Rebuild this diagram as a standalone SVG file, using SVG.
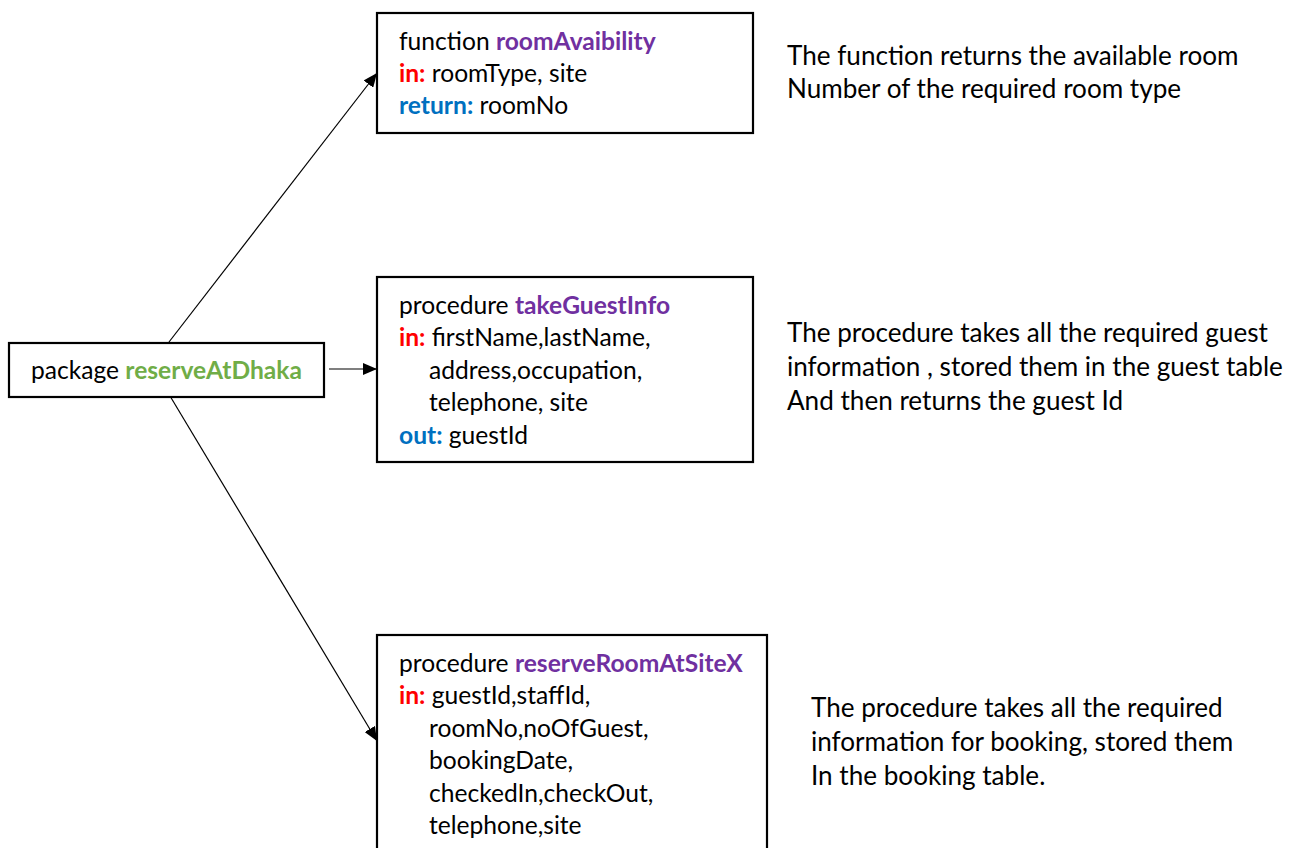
<svg xmlns="http://www.w3.org/2000/svg" width="1297" height="848" viewBox="0 0 1297 848">
<defs>
<marker id="arrow" markerUnits="userSpaceOnUse" markerWidth="14" markerHeight="12" refX="14" refY="6" orient="auto">
<path d="M0,0 L14,6 L0,12 z" fill="#000"/>
</marker>
<style>
.box{fill:#fff;stroke:#000;stroke-width:2.2}
.t{font-family:Lato,"Liberation Sans",sans-serif;font-size:24.6px;fill:#000}
.d{font-family:Lato,"Liberation Sans",sans-serif;font-size:26.1px;fill:#000}
.b{font-weight:bold}
.pu{fill:#7030A0}
.re{fill:#FF0000}
.bl{fill:#0070C0}
.gr{fill:#70AD47}
.conn{stroke:#000;stroke-width:1.2;fill:none;marker-end:url(#arrow)}
</style>
</defs>
<rect width="1297" height="848" fill="#fff"/>
<g id="connectors">
<line class="conn" x1="169" y1="342" x2="377" y2="73"/>
<line class="conn" x1="329" y1="369" x2="377" y2="369"/>
<line class="conn" x1="170" y1="396" x2="377" y2="741"/>
</g>
<g id="package">
<rect class="box" x="9" y="343" width="315" height="54"/>
<text class="t" x="31" y="379">package <tspan class="b gr">reserveAtDhaka</tspan></text>
</g>
<g id="roomAvaibility">
<rect class="box" x="377" y="13" width="376" height="120"/>
<text class="t" x="399" y="50">function <tspan class="b pu">roomAvaibility</tspan></text>
<text class="t" x="399" y="82"><tspan class="b re">in:</tspan> roomType, site</text>
<text class="t" x="399" y="114"><tspan class="b bl">return:</tspan> roomNo</text>
</g>
<g id="takeGuestInfo">
<rect class="box" x="377" y="277" width="376" height="185"/>
<text class="t" x="399" y="314">procedure <tspan class="b pu">takeGuestInfo</tspan></text>
<text class="t" x="399" y="346"><tspan class="b re">in:</tspan> firstName,lastName,</text>
<text class="t" x="429" y="379">address,occupation,</text>
<text class="t" x="429" y="411">telephone, site</text>
<text class="t" x="399" y="444"><tspan class="b bl">out:</tspan> guestId</text>
</g>
<g id="reserveRoomAtSiteX">
<rect class="box" x="377" y="635" width="390" height="230"/>
<text class="t" x="399" y="672">procedure <tspan class="b pu">reserveRoomAtSiteX</tspan></text>
<text class="t" x="399" y="704"><tspan class="b re">in:</tspan> guestId,staffId,</text>
<text class="t" x="429" y="737">roomNo,noOfGuest,</text>
<text class="t" x="429" y="769">bookingDate,</text>
<text class="t" x="429" y="802">checkedIn,checkOut,</text>
<text class="t" x="429" y="834">telephone,site</text>
</g>
<g id="desc1">
<text class="d" x="787" y="65">The function returns the available room</text>
<text class="d" x="787" y="98">Number of the required room type</text>
</g>
<g id="desc2">
<text class="d" x="787" y="342">The procedure takes all the required guest</text>
<text class="d" x="787" y="376">information , stored them in the guest table</text>
<text class="d" x="787" y="410">And then returns the guest Id</text>
</g>
<g id="desc3">
<text class="d" x="811" y="717">The procedure takes all the required</text>
<text class="d" x="811" y="751">information for booking, stored them</text>
<text class="d" x="811" y="785">In the booking table.</text>
</g>
</svg>
